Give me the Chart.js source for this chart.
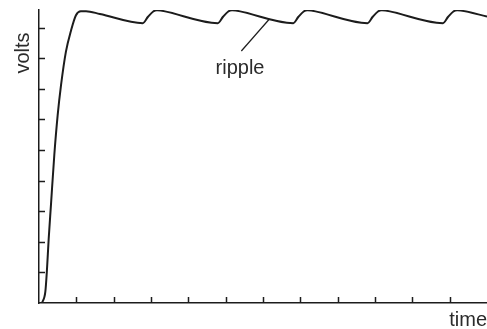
<!DOCTYPE html>
<html>
<head>
<meta charset="utf-8">
<script src="https://cdn.jsdelivr.net/npm/chart.js@4"></script>
<style>
    html, body { margin: 0; padding: 0; background: #fff; }
    #chartRipple { display: block; }
</style>
</head>
<body>
<canvas id="chartRipple" width="487" height="329"></canvas>
<script>
// time / volts
var timeValues = [
    0.08, 0.17, 0.21, 0.26, 0.32, 0.41, 0.50, 0.59, 0.72, 0.86, 0.99, 1.12, 1.26, 1.63,
    2.78, 2.92, 3.06, 3.16, 3.26,
    4.79, 4.93, 5.07, 5.17, 5.27,
    6.81, 6.95, 7.09, 7.19, 7.29,
    8.80, 8.94, 9.08, 9.18, 9.28,
    10.82, 10.96, 11.10, 11.20, 11.30,
    12.0
];
var voltValues = [
    0, 0.37, 1.02, 2.11, 3.20, 4.84, 6.14, 7.12, 8.21, 8.92, 9.41, 9.54, 9.54, 9.45,
    9.15, 9.36, 9.53, 9.57, 9.56,
    9.15, 9.36, 9.53, 9.57, 9.56,
    9.15, 9.36, 9.53, 9.57, 9.56,
    9.15, 9.36, 9.53, 9.57, 9.56,
    9.15, 9.36, 9.53, 9.57, 9.56,
    9.37
];
var xTickValues = [1, 2, 3, 4, 5, 6, 7, 8, 9, 10, 11];
var yTickValues = [1, 2, 3, 4, 5, 6, 7, 8, 9];

var inkColor = '#1c1c1c';
var textColor = '#2b2b2b';
var labelFont = '20px "Liberation Sans", Arial, sans-serif';

function buildPoints() {
    var points = [];
    for (var i = 0; i < timeValues.length; i++) {
        points.push({ x: timeValues[i], y: voltValues[i] });
    }
    return points;
}

// inward tick marks plus the text labels
var decorPlugin = {
    id: 'decor',
    afterDraw: function (chart) {
        var ctx = chart.ctx;
        var area = chart.chartArea;
        var xs = chart.scales.x;
        var ys = chart.scales.y;

        ctx.save();
        ctx.strokeStyle = inkColor;
        ctx.lineWidth = 1.5;
        ctx.beginPath();
        yTickValues.forEach(function (v) {
            var py = Math.round(ys.getPixelForValue(v)) + 0.5;
            ctx.moveTo(area.left, py);
            ctx.lineTo(area.left + 6, py);
        });
        xTickValues.forEach(function (v) {
            var px = Math.round(xs.getPixelForValue(v)) + 0.5;
            ctx.moveTo(px, area.bottom);
            ctx.lineTo(px, area.bottom - 6);
        });
        ctx.stroke();

        // leader line for the ripple label
        ctx.lineWidth = 1.2;
        ctx.beginPath();
        ctx.moveTo(xs.getPixelForValue(5.42), ys.getPixelForValue(8.24));
        ctx.lineTo(xs.getPixelForValue(6.16), ys.getPixelForValue(9.27));
        ctx.stroke();

        ctx.fillStyle = textColor;
        ctx.font = labelFont;
        ctx.textBaseline = 'alphabetic';

        ctx.textAlign = 'center';
        ctx.fillText('ripple', 240, 74);

        ctx.textAlign = 'right';
        ctx.fillText('time', 487, 326);

        ctx.translate(29, 53);
        ctx.rotate(-Math.PI / 2);
        ctx.textAlign = 'center';
        ctx.fillText('volts', 0, 0);
        ctx.restore();
    }
};

var ctx = document.getElementById('chartRipple');
var myChart = new Chart(ctx, {
    type: 'line',
    data: {
        datasets: [{
            data: buildPoints(),
            borderColor: inkColor,
            borderWidth: 2,
            pointRadius: 0,
            fill: false,
            cubicInterpolationMode: 'monotone'
        }]
    },
    options: {
        responsive: false,
        animation: false,
        devicePixelRatio: 1,
        layout: {
            padding: { left: 39, top: 10, right: 0, bottom: 26 }
        },
        plugins: {
            legend: { display: false },
            tooltip: { enabled: false }
        },
        scales: {
            x: {
                type: 'linear',
                min: 0,
                max: 12,
                ticks: { display: false },
                grid: { display: false, drawTicks: false },
                border: { display: true, color: inkColor, width: 1.5 }
            },
            y: {
                type: 'linear',
                min: 0,
                max: 9.58,
                ticks: { display: false },
                grid: { display: false, drawTicks: false },
                border: { display: true, color: inkColor, width: 1.5 }
            }
        }
    },
    plugins: [decorPlugin]
});
</script>
</body>
</html>
